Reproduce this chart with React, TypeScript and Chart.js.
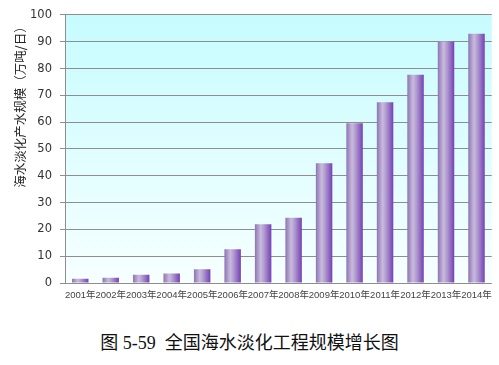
import React, { useEffect, useRef } from "react";
import { Chart, registerables } from "chart.js";

Chart.register(...registerables);

const categories = ["2001年", "2002年", "2003年", "2004年", "2005年", "2006年", "2007年", "2008年", "2009年", "2010年", "2011年", "2012年", "2013年", "2014年"];
const capacity = [1.6, 2.0, 3.1, 3.5, 5.1, 12.6, 21.9, 24.3, 44.7, 59.6, 67.4, 77.7, 90.1, 93.0];
const yTitle = "海水淡化产水规模（万吨/日）";
const caption = "图 5-59  全国海水淡化工程规模增长图";

const BAR_PCT = 0.54;

export default function App() {
  const ref = useRef<HTMLCanvasElement | null>(null);
  useEffect(() => {
    const canvas = ref.current!;
    const bgPlugin = {
      id: "bgPlugin",
      beforeDraw(chart: any) {
        const { ctx, chartArea } = chart;
        const g = ctx.createLinearGradient(0, chartArea.top, 0, chartArea.bottom);
        g.addColorStop(0, "#c6fcff");
        g.addColorStop(1, "#f7ffff");
        ctx.save();
        ctx.fillStyle = g;
        ctx.fillRect(chartArea.left, chartArea.top, chartArea.right - chartArea.left, chartArea.bottom - chartArea.top);
        ctx.restore();
      },
      afterDraw(chart: any) {
        const { ctx } = chart;
        ctx.save();
        ctx.translate(20, 104);
        ctx.rotate(-Math.PI / 2);
        ctx.font = "12.5px 'Noto Sans CJK SC'";
        ctx.fillStyle = "#222";
        ctx.textAlign = "center";
        ctx.textBaseline = "middle";
        ctx.fillText(yTitle, 0, 0);
        ctx.restore();
      },
    };
    const barColor = (c: any) => {
      const chart = c.chart;
      const xs = chart.scales?.x;
      const area = chart.chartArea;
      if (!xs || !area || c.dataIndex === undefined) return "#9b7fc4";
      const cx = xs.getPixelForValue(c.dataIndex);
      const half = ((area.right - area.left) / categories.length) * BAR_PCT / 2;
      const g = chart.ctx.createLinearGradient(cx - half, 0, cx + half, 0);
      g.addColorStop(0, "#8c74b4");
      g.addColorStop(0.35, "#c9bbdd");
      g.addColorStop(0.55, "#b29cd0");
      g.addColorStop(1, "#7440b4");
      return g;
    };
    const chart = new Chart(canvas, {
      type: "bar",
      data: {
        labels: categories,
        datasets: [
          {
            data: capacity,
            backgroundColor: barColor,
            borderWidth: 0,
            barPercentage: BAR_PCT,
            categoryPercentage: 1,
          },
        ],
      },
      plugins: [bgPlugin],
      options: {
        animation: false,
        responsive: false,
        maintainAspectRatio: false,
        layout: { padding: { top: 14, right: 5, left: 0, bottom: 0 } },
        plugins: { legend: { display: false }, tooltip: { enabled: false } },
        scales: {
          x: {
            grid: { display: false, drawTicks: false },
            border: { display: false },
            ticks: {
              autoSkip: false,
              maxRotation: 0,
              minRotation: 0,
              padding: 7,
              color: "#444",
              font: { family: "'Liberation Sans', 'Noto Sans CJK SC'", size: 9.5 },
            },
            afterFit: (s: any) => {
              s.height = 27;
            },
          },
          y: {
            min: 0,
            max: 100,
            ticks: {
              stepSize: 10,
              padding: 8,
              color: "#333",
              font: { family: "'DejaVu Sans'", size: 11.5 },
            },
            grid: { color: "#8e8e8e", lineWidth: 1, tickLength: 5, drawTicks: true },
            border: { display: true, color: "#8e8e8e" },
            afterFit: (s: any) => {
              s.width = 65;
            },
          },
        },
      },
    });
    return () => chart.destroy();
  }, []);
  return (
    <div style={{ position: "fixed", left: 0, top: 0, width: 499, height: 365, background: "#fff" }}>
      <canvas ref={ref} width={499} height={310} style={{ position: "absolute", left: 0, top: 0, width: 499, height: 310 }} />
      <div
        style={{
          position: "absolute",
          left: 0,
          top: 331,
          width: 499,
          textAlign: "center",
          fontFamily: "'Liberation Serif', 'Noto Sans CJK SC'",
          fontSize: 18,
          lineHeight: "24px",
          color: "#111",
          whiteSpace: "pre",
        }}
      >
        {caption}
      </div>
    </div>
  );
}
